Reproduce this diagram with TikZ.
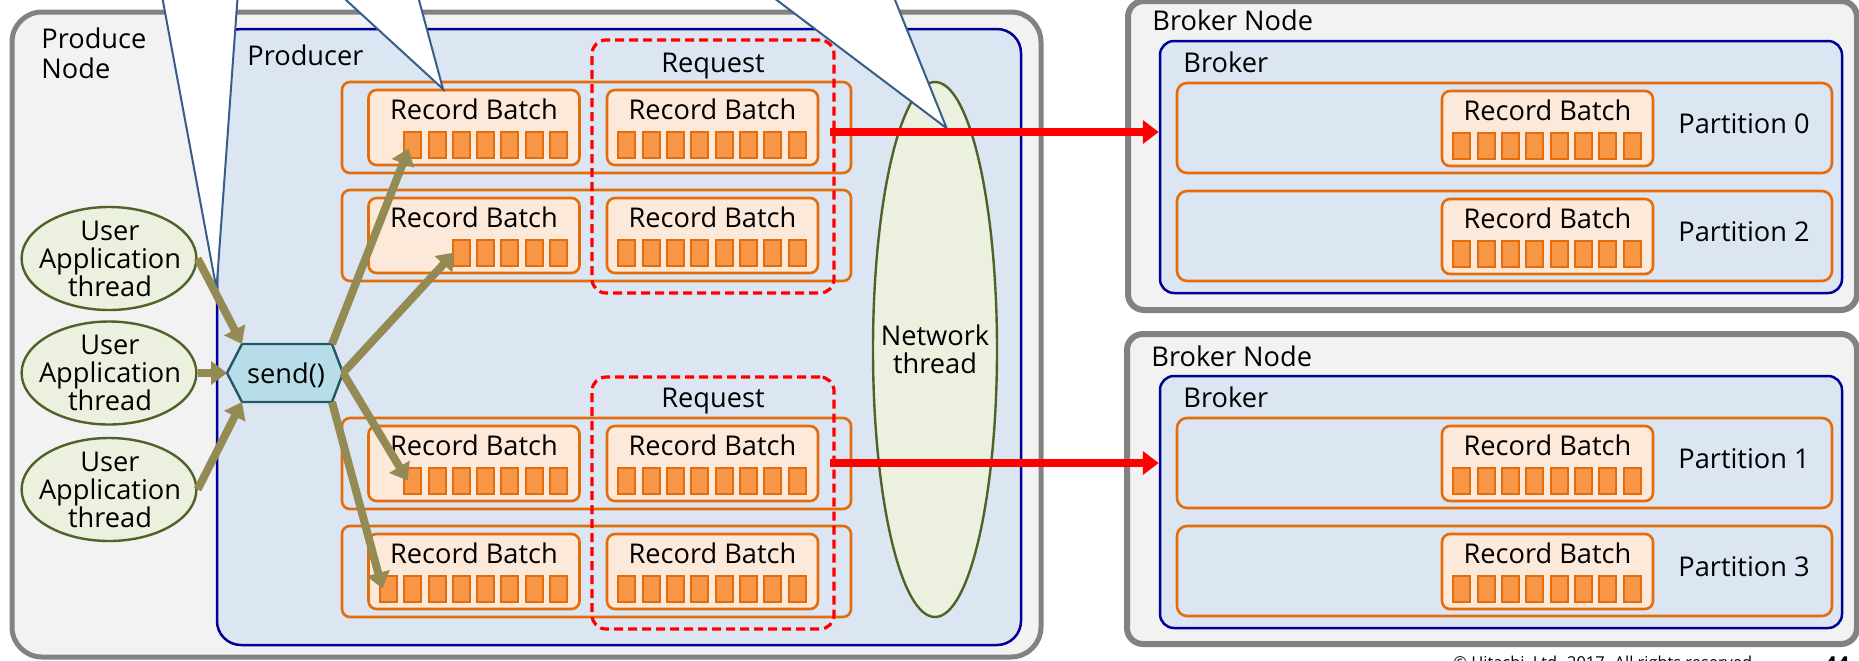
\documentclass[tikz,border=0pt]{standalone}
\usepackage{fontspec}
\setmainfont{Open Sans}
\usetikzlibrary{fit,shapes.geometric,arrows.meta}

\definecolor{hostfill}{HTML}{F2F2F2}
\definecolor{hostline}{HTML}{828282}
\definecolor{procfill}{HTML}{DCE6F2}
\definecolor{procline}{HTML}{000099}
\definecolor{batchline}{HTML}{E46C0A}
\definecolor{batchfill}{HTML}{FDE9D9}
\definecolor{cellfill}{HTML}{F79646}
\definecolor{threadfill}{HTML}{EBF1DE}
\definecolor{threadline}{HTML}{4F6228}
\definecolor{sendfill}{HTML}{B7DEE8}
\definecolor{sendline}{HTML}{215968}
\definecolor{flowcol}{HTML}{948A54}
\definecolor{calloutline}{HTML}{385D8A}

\newcommand\lblfont{\fontsize{13.6pt}{14pt}\selectfont}

% one record batch: name, left x, top y, number of records
\newcommand\recbatch[4]{%
  \node[batchbox, fit={(#2,#3) (#2+211,#3+75)}] (#1) {};
  \node[lbl, anchor=base] (#1t) at (#2+105.5,#3+29) {Record Batch};
  \foreach \k in {1,...,#4}{
    \node[cellbox] (#1-\k) at ({#2+190-(#4-\k)*24.3},#3+54.5) {};
  }%
}
% one producer queue row: name, top y, left batch, its record count, right batch
\newcommand\prodrow[5]{%
  \node[rowbox, fit={(342,#2) (851,#2+91)}] (#1) {};
  \recbatch{#3}{368.5}{#2+8}{#4}
  \recbatch{#5}{607}{#2+8}{8}
}
% one partition row on a broker: name, top y, batch name, label
\newcommand\partrow[4]{%
  \node[rowbox, rounded corners=5pt, fit={(1177,#2) (1832,#2+90)}] (#1) {};
  \recbatch{#3}{1442}{#2+8}{8}
  \node[lbl, anchor=base west] (#1t) at (1678,#2+50.5) {#4};
}

\begin{document}
\begin{tikzpicture}[x=0.5pt,y=-0.5pt,
  lbl/.style={inner sep=0pt, font=\lblfont},
  hostbox/.style={draw=hostline, fill=hostfill, line width=2.5pt, inner sep=0pt},
  procbox/.style={draw=procline, fill=procfill, line width=1.25pt, inner sep=0pt},
  rowbox/.style={draw=batchline, line width=1.3pt, rounded corners=4pt, inner sep=0pt},
  batchbox/.style={draw=batchline, fill=batchfill, line width=1.3pt, rounded corners=4pt, inner sep=0pt},
  cellbox/.style={draw=batchline, fill=cellfill, line width=1pt, minimum width=8.5pt, minimum height=13pt, inner sep=0pt},
  reqbox/.style={draw=red, line width=1.6pt, dash pattern=on 4.5pt off 2.5pt, rounded corners=7pt, inner sep=0pt},
  threadshape/.style={ellipse, draw=threadline, fill=threadfill, line width=1.2pt, inner sep=0pt},
  sendhex/.style={draw=sendline, fill=sendfill, line width=1.2pt, line join=miter},
  calloutfill/.style={draw=calloutline, fill=white, line width=1pt, line join=miter},
  flowarrow/.style={draw=flowcol, line width=4pt, -{Triangle[length=8pt,width=11.5pt]}},
  netarrow/.style={draw=red, line width=4pt, -{Triangle[length=8pt,width=11.5pt]}}]

\useasboundingbox (0,0) rectangle (1859,660);

% host frames
\node[hostbox, rounded corners=15pt, fit={(12,12) (1041,657)}] (pnode) {};
\node[procbox, rounded corners=12pt, fit={(217,29) (1021,645)}] (prod) {};
\node[hostbox, line width=3pt, rounded corners=8pt, fit={(1128,1) (1857,310)}] (bn1) {};
\node[hostbox, line width=3pt, rounded corners=8pt, fit={(1127,334) (1857,644)}] (bn2) {};
\node[procbox, rounded corners=7pt, fit={(1160,41) (1842,293)}] (br1) {};
\node[procbox, rounded corners=7pt, fit={(1160,376) (1842,628)}] (br2) {};

\node[lbl, anchor=west, align=left, font=\fontsize{13.6pt}{15pt}\selectfont] (pnodet) at (41,53.75) {Produce\\Node};
\node[lbl, anchor=base west] (prodt) at (247,65) {Producer};
\node[lbl, anchor=base west] (bn1t) at (1152,30.7) {Broker Node};
\node[lbl, anchor=base west] (bn2t) at (1151,366.7) {Broker Node};
\node[lbl, anchor=base west] (br1t) at (1183,72) {Broker};
\node[lbl, anchor=base west] (br2t) at (1183,407.3) {Broker};

% producer queues
\prodrow{row1}{82}{L1}{7}{R1}
\prodrow{row2}{190}{L2}{5}{R2}
\prodrow{row3}{418}{L3}{7}{R3}
\prodrow{row4}{526}{L4}{8}{R4}

% broker partitions
\partrow{p0}{83}{B0}{Partition 0}
\partrow{p2}{191}{B2}{Partition 2}
\partrow{p1}{418}{B1}{Partition 1}
\partrow{p3}{526}{B3}{Partition 3}

% requests
\node[reqbox, fit={(592,40) (834,293)}] (req1) {};
\node[lbl, anchor=base] (req1t) at (713,72) {Request};
\node[reqbox, fit={(592,377) (834,629)}] (req2) {};
\node[lbl, anchor=base] (req2t) at (713,407) {Request};

% threads
\node[threadshape, minimum width=62pt, minimum height=267.5pt] (net) at (935,349.5) {};
\node[lbl, align=center] (nett) at (net.center) {Network\\thread};
\foreach \n/\y in {1/258.5, 2/373, 3/489.5} {
  \node[threadshape, minimum width=87.4pt, minimum height=51.5pt] (ua\n) at (109,\y) {};
  \node[lbl, align=center] (uat\n) at (110,\y) {User\\Application\\thread};
}

% send()
\coordinate (hexL) at (227,373);
\coordinate (hexTL) at (242,344);
\coordinate (hexTR) at (332,344);
\coordinate (hexR) at (343,373);
\coordinate (hexBR) at (332,402);
\coordinate (hexBL) at (242,402);
\draw[sendhex] (hexL) -- (hexTL) -- (hexTR) -- (hexR) -- (hexBR) -- (hexBL) -- cycle;
\node[lbl, anchor=base] (send) at (286,383) {send()};

% callout pointers from above
\draw[calloutfill] (160.9,-10) -- (216.5,289) -- (238.1,-10) -- cycle;
\draw[calloutfill] (335.1,-10) -- (443,89) -- (416.3,-10) -- cycle;
\draw[calloutfill] (763.4,-10) -- (946.7,128.3) -- (891,-10) -- cycle;

% record flow
\draw[flowarrow] (ua1.east) -- (hexTL);
\draw[flowarrow] (ua2.east) -- (hexL);
\draw[flowarrow] (ua3.east) -- (hexBL);
\draw[flowarrow] (hexTR) -- ([shift={(-4,4)}]L1-1.center);
\draw[flowarrow] (hexR) -- ([shift={(-7,0)}]L2-1.center);
\draw[flowarrow] (hexR) -- ([shift={(-5,0)}]L3-1.center);
\draw[flowarrow] (hexBR) -- ([shift={(-6,0)}]L4-1.center);

% requests sent to brokers
\coordinate (out1) at (830,132);
\coordinate (out2) at (830,463);
\draw[netarrow] (out1) -- (br1.west |- out1);
\draw[netarrow] (out2) -- (br2.west |- out2);

% footer
\node[anchor=base west, inner sep=0pt, font=\fontsize{8.2pt}{9pt}\selectfont] (copy) at (1453,668.7) {© Hitachi, Ltd. 2017. All rights reserved.};
\node[anchor=base west, inner sep=0pt, font=\bfseries\fontsize{11pt}{12pt}\selectfont] (pageno) at (1824,672.4) {44};
\end{tikzpicture}
\end{document}
